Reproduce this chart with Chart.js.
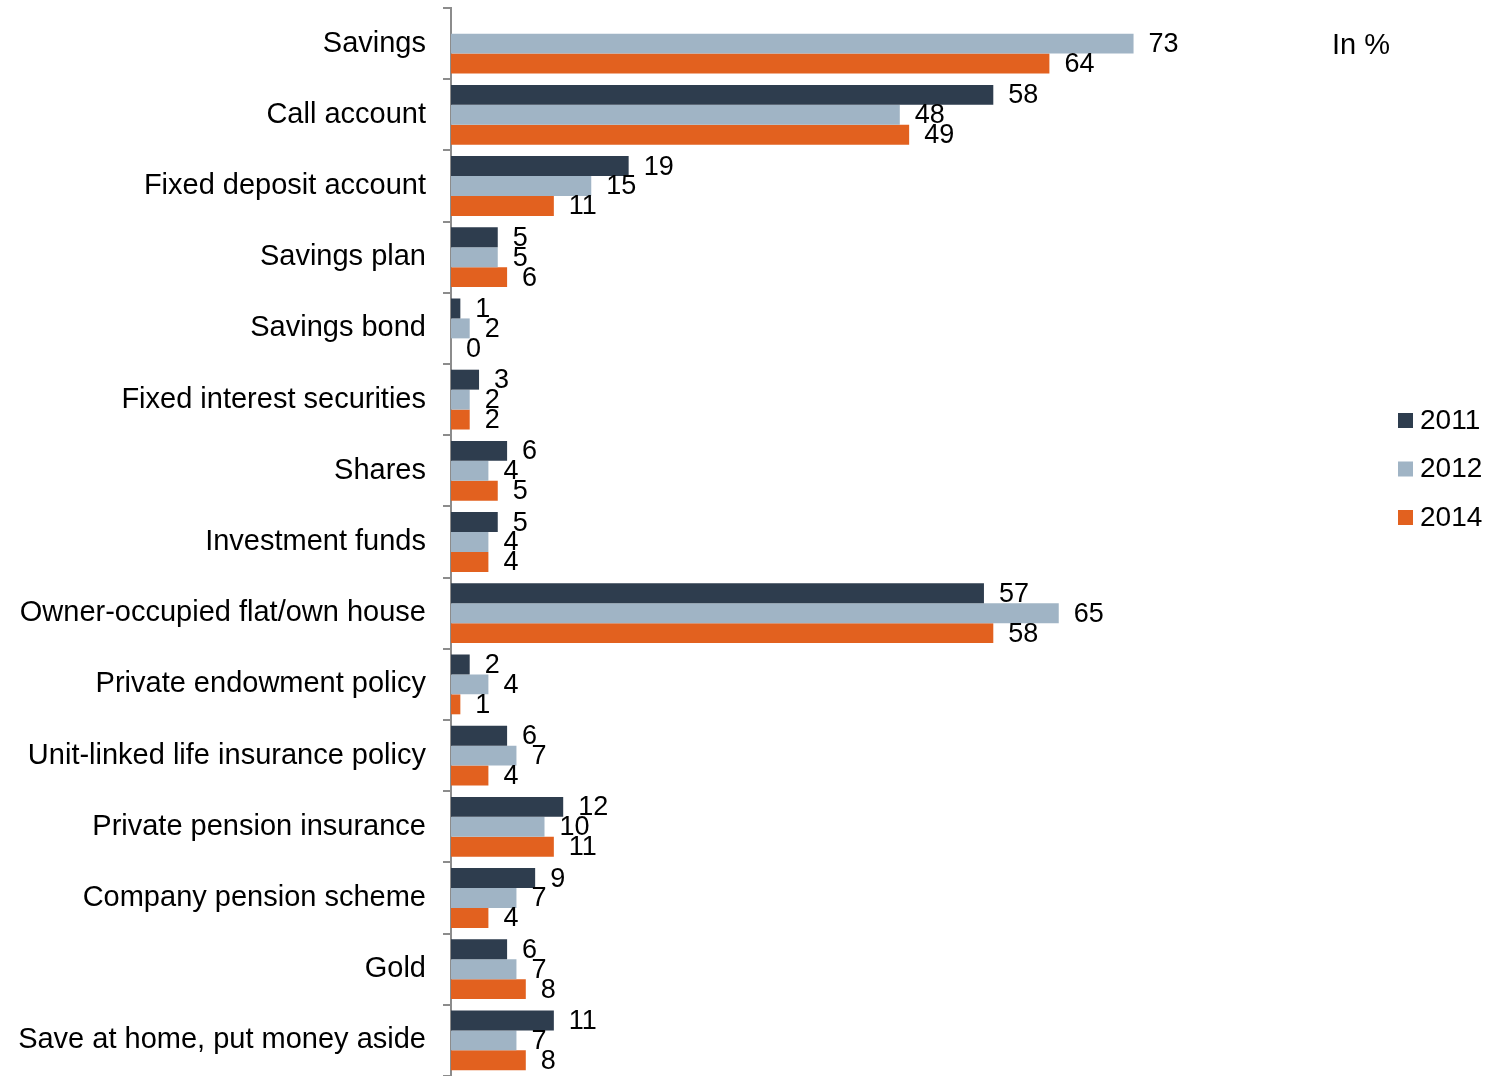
<!DOCTYPE html>
<html>
<head>
<meta charset="utf-8">
<script src="https://cdn.jsdelivr.net/npm/chart.js@4.4.0/dist/chart.umd.min.js"></script>
<style>
  html, body { margin: 0; padding: 0; background: #fff; }
  canvas { display: block; }
</style>
</head>
<body>
<canvas id="chart-1" width="1490" height="1076"></canvas>
<script>
// categories and values per year (in %)
const categories = [
    "Savings",
    "Call account",
    "Fixed deposit account",
    "Savings plan",
    "Savings bond",
    "Fixed interest securities",
    "Shares",
    "Investment funds",
    "Owner-occupied flat/own house",
    "Private endowment policy",
    "Unit-linked life insurance policy",
    "Private pension insurance",
    "Company pension scheme",
    "Gold",
    "Save at home, put money aside"
];
const years = ["2011", "2012", "2014"];
const values2011 = [null, 58, 19, 5, 1, 3, 6, 5, 57, 2, 6, 12, 9, 6, 11];
const values2012 = [73, 48, 15, 5, 2, 2, 4, 4, 65, 4, 7, 10, 7, 7, 7];
const values2014 = [64, 49, 11, 6, 0, 2, 5, 4, 58, 1, 4, 11, 4, 8, 8];
const colors = ["#2E3D4E", "#A0B4C5", "#E2611F"];
const unitLabel = "In %";

const fontFamily = "'Liberation Sans', Arial, sans-serif";

// value written right after the end of each bar
const valueLabels = {
    id: "valueLabels",
    afterDatasetsDraw(chart) {
        const ctx = chart.ctx;
        ctx.save();
        ctx.fillStyle = "#000";
        ctx.font = "27px " + fontFamily;
        ctx.textAlign = "left";
        ctx.textBaseline = "middle";
        chart.data.datasets.forEach(function(ds, i) {
            const meta = chart.getDatasetMeta(i);
            meta.data.forEach(function(bar, j) {
                const v = ds.data[j];
                if (v === null || v === undefined) return;
                ctx.fillText(String(v), bar.x + 15, bar.y + 1);
            });
        });
        ctx.restore();
    }
};

// legend on the right and the unit note at the top
const sideNotes = {
    id: "sideNotes",
    afterDraw(chart) {
        const ctx = chart.ctx;
        ctx.save();
        ctx.textBaseline = "middle";
        ctx.textAlign = "left";
        ctx.fillStyle = "#000";
        ctx.font = "29px " + fontFamily;
        ctx.fillText(unitLabel, 1332, 46);

        ctx.font = "28px " + fontFamily;
        chart.data.datasets.forEach(function(ds, i) {
            const y = 420 + i * 48.5;
            ctx.fillStyle = ds.backgroundColor;
            ctx.fillRect(1398, y - 7, 15, 15);
            ctx.fillStyle = "#000";
            ctx.fillText(ds.label, 1420, y + 1);
        });
        ctx.restore();
    }
};

const dataChart = {
    labels: categories,
    datasets: [values2011, values2012, values2014].map(function(vals, i) {
        return {
            label: years[i],
            data: vals,
            backgroundColor: colors[i],
            borderWidth: 0,
            categoryPercentage: 0.84,
            barPercentage: 1.0
        };
    })
};

const configChart = {
    type: "bar",
    data: dataChart,
    options: {
        indexAxis: "y",
        responsive: false,
        animation: false,
        devicePixelRatio: 1,
        layout: {
            padding: { top: 8, right: 291, bottom: 0, left: 0 }
        },
        plugins: {
            legend: { display: false },
            tooltip: { enabled: false }
        },
        scales: {
            x: {
                display: false,
                min: 0,
                max: 80
            },
            y: {
                afterFit: function(scale) {
                    scale.width = 451;
                    scale.paddingTop = 0;
                    scale.paddingBottom = 0;
                },
                border: { display: true, color: "#8C8C8C", width: 2 },
                grid: {
                    offset: true,
                    drawOnChartArea: false,
                    drawTicks: true,
                    tickLength: 8,
                    color: "#8C8C8C",
                    lineWidth: 2
                },
                ticks: {
                    color: "#000",
                    padding: 17,
                    font: { family: fontFamily, size: 29 }
                }
            }
        }
    },
    plugins: [valueLabels, sideNotes]
};

const chart = new Chart(document.getElementById("chart-1"), configChart);
</script>
</body>
</html>
